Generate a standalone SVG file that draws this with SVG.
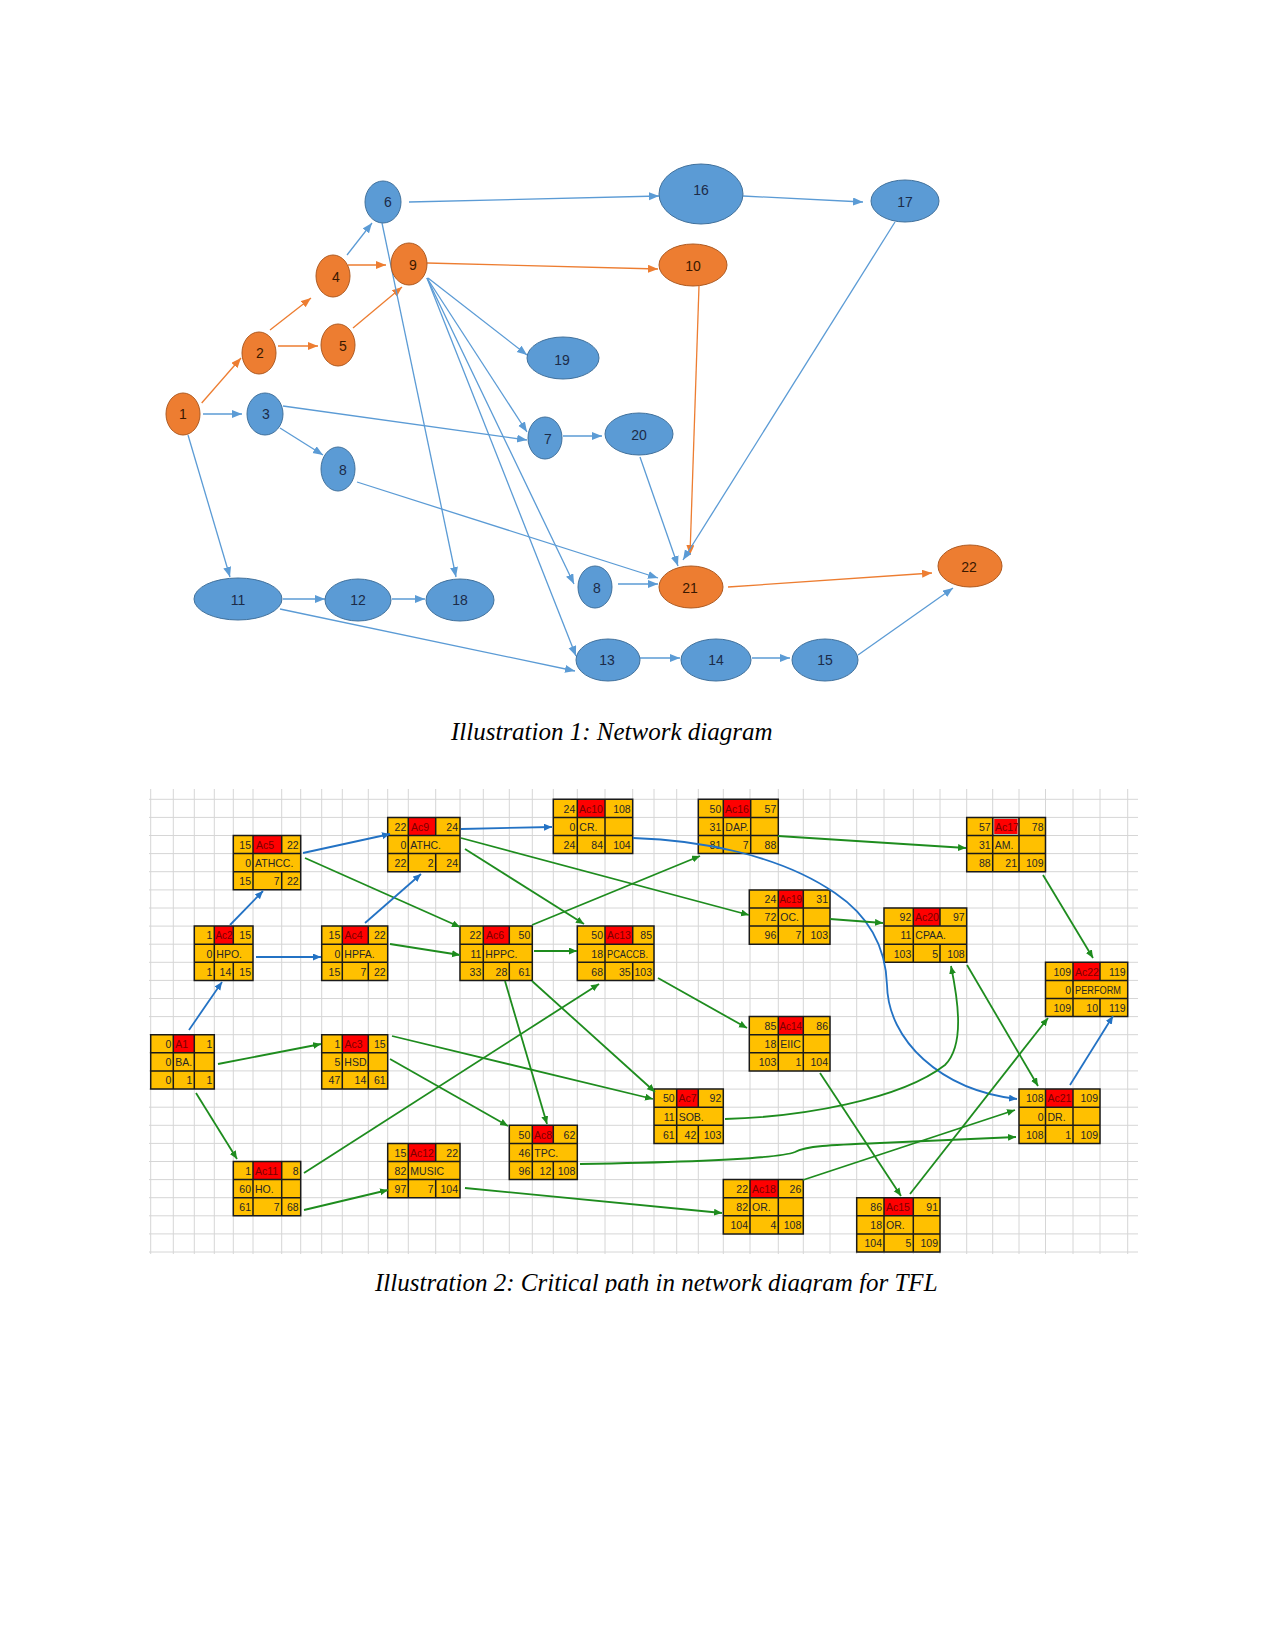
<svg xmlns="http://www.w3.org/2000/svg" width="1275" height="1650" viewBox="0 0 1275 1650">
<style>
.eb{fill:#5B9BD5;stroke:#41719C;stroke-width:1}
.eo{fill:#ED7D31;stroke:#AE5A21;stroke-width:1}
.tn{font-family:"Liberation Sans",Arial,sans-serif;font-size:14px;text-anchor:middle;fill:#1c2b48}
.to{fill:#3a1800}
.lb{fill:none;stroke:#5B9BD5;stroke-width:1.3}
.lo{fill:none;stroke:#ED7D31;stroke-width:1.3}
.grid{fill:none;stroke:#d6d6d6;stroke-width:1}
.bg{fill:#FFC000}
.rd{fill:#FF0000}
.bd{fill:none;stroke:#1a1a1a;stroke-width:1.5}
.t{font-family:"Liberation Sans",Arial,sans-serif;font-size:10.5px;fill:#262626;text-anchor:end}
.l{text-anchor:start}
.a{text-anchor:start;fill:#7a0000}
.cg{fill:none;stroke:#1e8c1e;stroke-width:1.8}
.cb{fill:none;stroke:#2372c4;stroke-width:1.8}
.cap{font-family:"Liberation Serif","Times New Roman",serif;font-style:italic;font-size:25px;fill:#000}
</style>
<defs>
<marker id="ab" markerUnits="userSpaceOnUse" markerWidth="11" markerHeight="9" refX="10" refY="4" orient="auto"><path d="M0,0 L10,4 L0,8 z" fill="#5B9BD5"/></marker>
<marker id="ao" markerUnits="userSpaceOnUse" markerWidth="11" markerHeight="9" refX="10" refY="4" orient="auto"><path d="M0,0 L10,4 L0,8 z" fill="#ED7D31"/></marker>
<marker id="mg" markerUnits="userSpaceOnUse" markerWidth="9" markerHeight="8" refX="8" refY="3.5" orient="auto"><path d="M0,0 L8,3.5 L0,7 z" fill="#1e8c1e"/></marker>
<marker id="mb" markerUnits="userSpaceOnUse" markerWidth="9" markerHeight="8" refX="8" refY="3.5" orient="auto"><path d="M0,0 L8,3.5 L0,7 z" fill="#2372c4"/></marker>
<clipPath id="capclip"><rect x="0" y="1240" width="1275" height="53"/></clipPath>
</defs>
<rect width="1275" height="1650" fill="#fff"/>

<!-- ===== Illustration 1 connectors ===== -->
<g id="connectors1">
<path class="lo" marker-end="url(#ao)" d="M201.7,403 L241,358"/>
<path class="lo" marker-end="url(#ao)" d="M270,330 L311,298"/>
<path class="lo" marker-end="url(#ao)" d="M278,346 L318,346"/>
<path class="lo" marker-end="url(#ao)" d="M348,265 L386,265"/>
<path class="lo" marker-end="url(#ao)" d="M353,328 L402,287"/>
<path class="lo" marker-end="url(#ao)" d="M427,263 L658,269"/>
<path class="lo" marker-end="url(#ao)" d="M699,286 L690,555"/>
<path class="lo" marker-end="url(#ao)" d="M728,587 L932,573"/>
<path class="lb" marker-end="url(#ab)" d="M203,414 L242,414"/>
<path class="lb" marker-end="url(#ab)" d="M347,255 L372,223"/>
<path class="lb" marker-end="url(#ab)" d="M409,202 L659,196"/>
<path class="lb" marker-end="url(#ab)" d="M743,196 L863,202"/>
<path class="lb" marker-end="url(#ab)" d="M382,223 L456,577"/>
<path class="lb" marker-end="url(#ab)" d="M428,278 L527,355"/>
<path class="lb" marker-end="url(#ab)" d="M427,278 L527,432"/>
<path class="lb" marker-end="url(#ab)" d="M283,406 L527,440"/>
<path class="lb" marker-end="url(#ab)" d="M427,278 L574,584"/>
<path class="lb" marker-end="url(#ab)" d="M427,278 L576,656"/>
<path class="lb" marker-end="url(#ab)" d="M280,428 L323,455"/>
<path class="lb" marker-end="url(#ab)" d="M188,435 L230,577"/>
<path class="lb" marker-end="url(#ab)" d="M283,599 L325,599"/>
<path class="lb" marker-end="url(#ab)" d="M392,599 L425,599"/>
<path class="lb" marker-end="url(#ab)" d="M280,609 L575,671"/>
<path class="lb" marker-end="url(#ab)" d="M357,482 L658,578"/>
<path class="lb" marker-end="url(#ab)" d="M618,584 L658,584"/>
<path class="lb" marker-end="url(#ab)" d="M563,436 L602,436"/>
<path class="lb" marker-end="url(#ab)" d="M640,457 L678,566"/>
<path class="lb" marker-end="url(#ab)" d="M895,222 L683,560"/>
<path class="lb" marker-end="url(#ab)" d="M858,655 L953,588"/>
<path class="lb" marker-end="url(#ab)" d="M640,658 L680,658"/>
<path class="lb" marker-end="url(#ab)" d="M752,658 L790,658"/>
</g>

<!-- ===== Illustration 1 nodes ===== -->
<g id="n1"><ellipse class="eo" cx="183" cy="414" rx="17" ry="21"/><text class="tn to" x="183" y="419">1</text></g>
<g id="n2"><ellipse class="eo" cx="259" cy="353" rx="17" ry="21"/><text class="tn to" x="260" y="358">2</text></g>
<g id="n3"><ellipse class="eb" cx="265" cy="414" rx="18" ry="21"/><text class="tn" x="266" y="419">3</text></g>
<g id="n4"><ellipse class="eo" cx="333" cy="276" rx="17" ry="21"/><text class="tn to" x="336" y="282">4</text></g>
<g id="n5"><ellipse class="eo" cx="338" cy="345" rx="17" ry="21"/><text class="tn to" x="343" y="351">5</text></g>
<g id="n6"><ellipse class="eb" cx="383" cy="202" rx="18" ry="21"/><text class="tn" x="388" y="207">6</text></g>
<g id="n9"><ellipse class="eo" cx="409" cy="264" rx="18" ry="21"/><text class="tn to" x="413" y="270">9</text></g>
<g id="n19"><ellipse class="eb" cx="563" cy="358" rx="36" ry="21"/><text class="tn" x="562" y="365">19</text></g>
<g id="n7"><ellipse class="eb" cx="545" cy="438" rx="17" ry="21"/><text class="tn" x="548" y="444">7</text></g>
<g id="n8a"><ellipse class="eb" cx="338" cy="469" rx="17" ry="22"/><text class="tn" x="343" y="475">8</text></g>
<g id="n16"><ellipse class="eb" cx="701" cy="194" rx="42" ry="30"/><text class="tn" x="701" y="195">16</text></g>
<g id="n17"><ellipse class="eb" cx="905" cy="201" rx="34" ry="21"/><text class="tn" x="905" y="207">17</text></g>
<g id="n10"><ellipse class="eo" cx="693" cy="265" rx="34" ry="21"/><text class="tn to" x="693" y="271">10</text></g>
<g id="n20"><ellipse class="eb" cx="639" cy="434" rx="34" ry="21"/><text class="tn" x="639" y="440">20</text></g>
<g id="n11"><ellipse class="eb" cx="238" cy="599" rx="44" ry="21"/><text class="tn" x="238" y="605">11</text></g>
<g id="n12"><ellipse class="eb" cx="358" cy="600" rx="33" ry="21"/><text class="tn" x="358" y="605">12</text></g>
<g id="n18"><ellipse class="eb" cx="460" cy="600" rx="34" ry="21"/><text class="tn" x="460" y="605">18</text></g>
<g id="n8b"><ellipse class="eb" cx="595" cy="587" rx="17" ry="21"/><text class="tn" x="597" y="593">8</text></g>
<g id="n13"><ellipse class="eb" cx="608" cy="660" rx="32" ry="21"/><text class="tn" x="607" y="665">13</text></g>
<g id="n21"><ellipse class="eo" cx="691" cy="587" rx="32" ry="21"/><text class="tn to" x="690" y="593">21</text></g>
<g id="n22"><ellipse class="eo" cx="970" cy="566" rx="32" ry="21"/><text class="tn to" x="969" y="572">22</text></g>
<g id="n14"><ellipse class="eb" cx="716" cy="660" rx="35" ry="21"/><text class="tn" x="716" y="665">14</text></g>
<g id="n15"><ellipse class="eb" cx="825" cy="660" rx="33" ry="21"/><text class="tn" x="825" y="665">15</text></g>

<text class="cap" x="451" y="740">Illustration 1: Network diagram</text>

<!-- ===== Illustration 2 grid ===== -->
<path class="grid" d="M149,799.3H1138 M149,817.4H1138 M149,835.5H1138 M149,853.6H1138 M149,871.7H1138 M149,889.9H1138 M149,908H1138 M149,926.1H1138 M149,944.2H1138 M149,962.3H1138 M149,980.4H1138 M149,998.5H1138 M149,1016.6H1138 M149,1034.7H1138 M149,1052.8H1138 M149,1070.9H1138 M149,1089.1H1138 M149,1107.2H1138 M149,1125.3H1138 M149,1143.4H1138 M149,1161.5H1138 M149,1179.6H1138 M149,1197.7H1138 M149,1215.8H1138 M149,1233.9H1138 M149,1252H1138
M150.7,789V1254 M173.3,789V1254 M194.3,789V1254 M214.3,789V1254 M233.3,789V1254 M253,789V1254 M281.7,789V1254 M300.7,789V1254 M321.7,789V1254 M342.3,789V1254 M368.3,789V1254 M387.7,789V1254 M408.3,789V1254 M435.7,789V1254 M460,789V1254 M483.3,789V1254 M509.3,789V1254 M532.3,789V1254 M553.3,789V1254 M577.3,789V1254 M605,789V1254 M632.7,789V1254 M654,789V1254 M676.7,789V1254 M698.3,789V1254 M723.3,789V1254 M750,789V1254 M778.3,789V1254 M803.3,789V1254 M830,789V1254 M856.7,789V1254 M884,789V1254 M913.3,789V1254 M940,789V1254 M966.7,789V1254 M992.7,789V1254 M1019,789V1254 M1045.5,789V1254 M1073,789V1254 M1100,789V1254 M1127.7,789V1254"/>

<!-- ===== Illustration 2 nodes ===== -->
<g id="A1">
<rect class="bg" x="150.7" y="1034.7" width="63.6" height="54.3"/><rect class="rd" x="173.3" y="1034.7" width="21" height="18.1"/>
<path class="bd" d="M150.7,1034.7H214.3V1089H150.7Z M150.7,1052.8H214.3 M150.7,1070.9H214.3 M173.3,1034.7V1089 M194.3,1034.7V1089"/>
<text class="t" x="171.3" y="1048">0</text><text class="t a" x="175.3" y="1048">A1</text><text class="t" x="212.3" y="1048">1</text>
<text class="t" x="171.3" y="1066.1">0</text><text class="t l" x="175.3" y="1066.1">BA.</text>
<text class="t" x="171.3" y="1084.2">0</text><text class="t" x="192.3" y="1084.2">1</text><text class="t" x="212.3" y="1084.2">1</text>
</g>
<g id="Ac2">
<rect class="bg" x="194.3" y="926.1" width="58.7" height="54.3"/><rect class="rd" x="214.3" y="926.1" width="19" height="18.1"/>
<path class="bd" d="M194.3,926.1H253V980.4H194.3Z M194.3,944.2H253 M194.3,962.3H253 M214.3,926.1V980.4 M233.3,926.1V944.2 M233.3,962.3V980.4"/>
<text class="t" x="212.3" y="939.4">1</text><text class="t a" x="215.5" y="939.4" textLength="17" lengthAdjust="spacingAndGlyphs">Ac2</text><text class="t" x="251" y="939.4">15</text>
<text class="t" x="212.3" y="957.5">0</text><text class="t l" x="216.3" y="957.5">HPO.</text>
<text class="t" x="212.3" y="975.6">1</text><text class="t" x="231.3" y="975.6">14</text><text class="t" x="251" y="975.6">15</text>
</g>
<g id="Ac5">
<rect class="bg" x="233.3" y="835.5" width="67.4" height="54.3"/><rect class="rd" x="253" y="835.5" width="28.7" height="18.1"/>
<path class="bd" d="M233.3,835.5H300.7V889.8H233.3Z M233.3,853.6H300.7 M233.3,871.7H300.7 M253,835.5V889.8 M281.7,835.5V853.6 M281.7,871.7V889.8"/>
<text class="t" x="251" y="848.8">15</text><text class="t a" x="256" y="848.8">Ac5</text><text class="t" x="298.7" y="848.8">22</text>
<text class="t" x="251" y="866.9">0</text><text class="t l" x="255" y="866.9">ATHCC.</text>
<text class="t" x="251" y="885">15</text><text class="t" x="279.7" y="885">7</text><text class="t" x="298.7" y="885">22</text>
</g>
<g id="Ac4">
<rect class="bg" x="321.7" y="926.1" width="66" height="54.3"/><rect class="rd" x="342.3" y="926.1" width="26" height="18.1"/>
<path class="bd" d="M321.7,926.1H387.7V980.4H321.7Z M321.7,944.2H387.7 M321.7,962.3H387.7 M342.3,926.1V980.4 M368.3,926.1V944.2 M368.3,962.3V980.4"/>
<text class="t" x="340.3" y="939.4">15</text><text class="t a" x="344.5" y="939.4">Ac4</text><text class="t" x="385.7" y="939.4">22</text>
<text class="t" x="340.3" y="957.5">0</text><text class="t l" x="344.3" y="957.5">HPFA.</text>
<text class="t" x="340.3" y="975.6">15</text><text class="t" x="366.3" y="975.6">7</text><text class="t" x="385.7" y="975.6">22</text>
</g>
<g id="Ac3">
<rect class="bg" x="321.7" y="1034.7" width="66" height="54.3"/><rect class="rd" x="342.3" y="1034.7" width="26" height="18.1"/>
<path class="bd" d="M321.7,1034.7H387.7V1089H321.7Z M321.7,1052.8H387.7 M321.7,1070.9H387.7 M342.3,1034.7V1089 M368.3,1034.7V1089"/>
<text class="t" x="340.3" y="1048">1</text><text class="t a" x="344.5" y="1048">Ac3</text><text class="t" x="385.7" y="1048">15</text>
<text class="t" x="340.3" y="1066.1">5</text><text class="t l" x="344.3" y="1066.1">HSD.</text>
<text class="t" x="340.3" y="1084.2">47</text><text class="t" x="366.3" y="1084.2">14</text><text class="t" x="385.7" y="1084.2">61</text>
</g>
<g id="Ac9">
<rect class="bg" x="387.7" y="817.4" width="72.3" height="54.3"/><rect class="rd" x="408.3" y="817.4" width="27.4" height="18.1"/>
<path class="bd" d="M387.7,817.4H460V871.7H387.7Z M387.7,835.5H460 M387.7,853.6H460 M408.3,817.4V871.7 M435.7,817.4V835.5 M435.7,853.6V871.7"/>
<text class="t" x="406.3" y="830.7">22</text><text class="t a" x="411" y="830.7">Ac9</text><text class="t" x="458" y="830.7">24</text>
<text class="t" x="406.3" y="848.8">0</text><text class="t l" x="410.3" y="848.8">ATHC.</text>
<text class="t" x="406.3" y="866.9">22</text><text class="t" x="433.7" y="866.9">2</text><text class="t" x="458" y="866.9">24</text>
</g>
<g id="Ac11">
<rect class="bg" x="233.3" y="1161.5" width="67.4" height="54.3"/><rect class="rd" x="253" y="1161.5" width="28.7" height="18.1"/>
<path class="bd" d="M233.3,1161.5H300.7V1215.8H233.3Z M233.3,1179.6H300.7 M233.3,1197.7H300.7 M253,1161.5V1215.8 M281.7,1161.5V1215.8"/>
<text class="t" x="251" y="1174.8">1</text><text class="t a" x="255" y="1174.8">Ac11</text><text class="t" x="298.7" y="1174.8">8</text>
<text class="t" x="251" y="1192.9">60</text><text class="t l" x="255" y="1192.9">HO.</text>
<text class="t" x="251" y="1211">61</text><text class="t" x="279.7" y="1211">7</text><text class="t" x="298.7" y="1211">68</text>
</g>
<g id="Ac12">
<rect class="bg" x="387.7" y="1143.4" width="72.3" height="54.3"/><rect class="rd" x="408.3" y="1143.4" width="27.4" height="18.1"/>
<path class="bd" d="M387.7,1143.4H460V1197.7H387.7Z M387.7,1161.5H460 M387.7,1179.6H460 M408.3,1143.4V1197.7 M435.7,1143.4V1161.5 M435.7,1179.6V1197.7"/>
<text class="t" x="406.3" y="1156.7">15</text><text class="t a" x="410" y="1156.7">Ac12</text><text class="t" x="458" y="1156.7">22</text>
<text class="t" x="406.3" y="1174.8">82</text><text class="t l" x="410.3" y="1174.8">MUSIC</text>
<text class="t" x="406.3" y="1192.9">97</text><text class="t" x="433.7" y="1192.9">7</text><text class="t" x="458" y="1192.9">104</text>
</g>
<g id="Ac6">
<rect class="bg" x="460" y="926.1" width="72.3" height="54.3"/><rect class="rd" x="483.3" y="926.1" width="26" height="18.1"/>
<path class="bd" d="M460,926.1H532.3V980.4H460Z M460,944.2H532.3 M460,962.3H532.3 M483.3,926.1V980.4 M509.3,926.1V944.2 M509.3,962.3V980.4"/>
<text class="t" x="481.3" y="939.4">22</text><text class="t a" x="486" y="939.4">Ac6</text><text class="t" x="530.3" y="939.4">50</text>
<text class="t" x="481.3" y="957.5">11</text><text class="t l" x="485.3" y="957.5">HPPC.</text>
<text class="t" x="481.3" y="975.6">33</text><text class="t" x="507.3" y="975.6">28</text><text class="t" x="530.3" y="975.6">61</text>
</g>
<g id="Ac10">
<rect class="bg" x="553.3" y="799.3" width="79.4" height="54.3"/><rect class="rd" x="577.3" y="799.3" width="27.7" height="18.1"/>
<path class="bd" d="M553.3,799.3H632.7V853.6H553.3Z M553.3,817.4H632.7 M553.3,835.5H632.7 M577.3,799.3V853.6 M605,799.3V853.6"/>
<text class="t" x="575.3" y="812.6">24</text><text class="t a" x="579" y="812.6">Ac10</text><text class="t" x="630.7" y="812.6">108</text>
<text class="t" x="575.3" y="830.7">0</text><text class="t l" x="579.3" y="830.7">CR.</text>
<text class="t" x="575.3" y="848.8">24</text><text class="t" x="603" y="848.8">84</text><text class="t" x="630.7" y="848.8">104</text>
</g>
<g id="Ac13">
<rect class="bg" x="577.3" y="926.1" width="76.7" height="54.3"/><rect class="rd" x="605" y="926.1" width="27.7" height="18.1"/>
<path class="bd" d="M577.3,926.1H654V980.4H577.3Z M577.3,944.2H654 M577.3,962.3H654 M605,926.1V980.4 M632.7,926.1V944.2 M632.7,962.3V980.4"/>
<text class="t" x="603" y="939.4">50</text><text class="t a" x="607" y="939.4">Ac13</text><text class="t" x="652" y="939.4">85</text>
<text class="t" x="603" y="957.5">18</text><text class="t l" x="607" y="957.5" textLength="41" lengthAdjust="spacingAndGlyphs">PCACCB.</text>
<text class="t" x="603" y="975.6">68</text><text class="t" x="630.7" y="975.6">35</text><text class="t" x="652" y="975.6">103</text>
</g>
<g id="Ac16">
<rect class="bg" x="698.3" y="799.3" width="80" height="54.3"/><rect class="rd" x="723.3" y="799.3" width="27.4" height="18.1"/>
<path class="bd" d="M698.3,799.3H778.3V853.6H698.3Z M698.3,817.4H778.3 M698.3,835.5H778.3 M723.3,799.3V853.6 M750.7,799.3V853.6"/>
<text class="t" x="721.3" y="812.6">50</text><text class="t a" x="725" y="812.6">Ac16</text><text class="t" x="776.3" y="812.6">57</text>
<text class="t" x="721.3" y="830.7">31</text><text class="t l" x="725.3" y="830.7">DAP.</text>
<text class="t" x="721.3" y="848.8">81</text><text class="t" x="748.7" y="848.8">7</text><text class="t" x="776.3" y="848.8">88</text>
</g>
<g id="Ac19">
<rect class="bg" x="749.3" y="889.9" width="80.7" height="54.3"/><rect class="rd" x="778.3" y="889.9" width="25" height="18.1"/>
<path class="bd" d="M749.3,889.9H830V944.2H749.3Z M749.3,908H830 M749.3,926.1H830 M778.3,889.9V944.2 M803.3,889.9V944.2"/>
<text class="t" x="776.3" y="903.2">24</text><text class="t a" x="779.5" y="903.2" textLength="22.5" lengthAdjust="spacingAndGlyphs">Ac19</text><text class="t" x="828" y="903.2">31</text>
<text class="t" x="776.3" y="921.3">72</text><text class="t l" x="780.3" y="921.3">OC.</text>
<text class="t" x="776.3" y="939.4">96</text><text class="t" x="801.3" y="939.4">7</text><text class="t" x="828" y="939.4">103</text>
</g>
<g id="Ac17">
<rect class="bg" x="966.7" y="817.4" width="78.8" height="54.3"/><rect class="rd" x="992.7" y="817.4" width="26.3" height="18.1"/>
<rect x="993.7" y="818.4" width="24.3" height="16.1" fill="none" stroke="#cfe8cf" stroke-width="1"/>
<path class="bd" d="M966.7,817.4H1045.5V871.7H966.7Z M966.7,835.5H1045.5 M966.7,853.6H1045.5 M992.7,817.4V871.7 M1019,817.4V871.7"/>
<text class="t" x="990.7" y="830.7">57</text><text class="t a" x="995" y="830.7">Ac17</text><text class="t" x="1043.5" y="830.7">78</text>
<text class="t" x="990.7" y="848.8">31</text><text class="t l" x="994.7" y="848.8">AM.</text>
<text class="t" x="990.7" y="866.9">88</text><text class="t" x="1017" y="866.9">21</text><text class="t" x="1043.5" y="866.9">109</text>
</g>
<g id="Ac20">
<rect class="bg" x="884" y="908" width="82.7" height="54.3"/><rect class="rd" x="913.3" y="908" width="26.7" height="18.1"/>
<path class="bd" d="M884,908H966.7V962.3H884Z M884,926.1H966.7 M884,944.2H966.7 M913.3,908V962.3 M940,908V926.1 M940,944.2V962.3"/>
<text class="t" x="911.3" y="921.3">92</text><text class="t a" x="915" y="921.3">Ac20</text><text class="t" x="964.7" y="921.3">97</text>
<text class="t" x="911.3" y="939.4">11</text><text class="t l" x="915.3" y="939.4">CPAA.</text>
<text class="t" x="911.3" y="957.5">103</text><text class="t" x="938" y="957.5">5</text><text class="t" x="964.7" y="957.5">108</text>
</g>
<g id="Ac22">
<rect class="bg" x="1045.5" y="962.3" width="82.2" height="54.3"/><rect class="rd" x="1073" y="962.3" width="27" height="18.1"/>
<path class="bd" d="M1045.5,962.3H1127.7V1016.6H1045.5Z M1045.5,980.4H1127.7 M1045.5,998.5H1127.7 M1073,962.3V1016.6 M1100,962.3V980.4 M1100,998.5V1016.6"/>
<text class="t" x="1071" y="975.6">109</text><text class="t a" x="1075" y="975.6">Ac22</text><text class="t" x="1125.7" y="975.6">119</text>
<text class="t" x="1071" y="993.7">0</text><text class="t l" x="1075" y="993.7" textLength="46" lengthAdjust="spacingAndGlyphs">PERFORM</text>
<text class="t" x="1071" y="1011.8">109</text><text class="t" x="1098" y="1011.8">10</text><text class="t" x="1125.7" y="1011.8">119</text>
</g>
<g id="Ac14">
<rect class="bg" x="749.3" y="1016.6" width="80.7" height="54.3"/><rect class="rd" x="778.3" y="1016.6" width="25" height="18.1"/>
<path class="bd" d="M749.3,1016.6H830V1070.9H749.3Z M749.3,1034.7H830 M749.3,1052.8H830 M778.3,1016.6V1070.9 M803.3,1016.6V1070.9"/>
<text class="t" x="776.3" y="1029.9">85</text><text class="t a" x="779.5" y="1029.9" textLength="22.5" lengthAdjust="spacingAndGlyphs">Ac14</text><text class="t" x="828" y="1029.9">86</text>
<text class="t" x="776.3" y="1048">18</text><text class="t l" x="780.3" y="1048">EIIC</text>
<text class="t" x="776.3" y="1066.1">103</text><text class="t" x="801.3" y="1066.1">1</text><text class="t" x="828" y="1066.1">104</text>
</g>
<g id="Ac7">
<rect class="bg" x="654" y="1089.1" width="69.3" height="54.3"/><rect class="rd" x="676.7" y="1089.1" width="21.6" height="18.1"/>
<path class="bd" d="M654,1089.1H723.3V1143.4H654Z M654,1107.2H723.3 M654,1125.3H723.3 M676.7,1089.1V1143.4 M698.3,1089.1V1107.2 M698.3,1125.3V1143.4"/>
<text class="t" x="674.7" y="1102.4">50</text><text class="t a" x="678.5" y="1102.4" textLength="18" lengthAdjust="spacingAndGlyphs">Ac7</text><text class="t" x="721.3" y="1102.4">92</text>
<text class="t" x="674.7" y="1120.5">11</text><text class="t l" x="678.7" y="1120.5">SOB.</text>
<text class="t" x="674.7" y="1138.6">61</text><text class="t" x="696.3" y="1138.6">42</text><text class="t" x="721.3" y="1138.6">103</text>
</g>
<g id="Ac8">
<rect class="bg" x="509.3" y="1125.3" width="68" height="54.3"/><rect class="rd" x="532.3" y="1125.3" width="21" height="18.1"/>
<path class="bd" d="M509.3,1125.3H577.3V1179.6H509.3Z M509.3,1143.4H577.3 M509.3,1161.5H577.3 M532.3,1125.3V1179.6 M553.3,1125.3V1143.4 M553.3,1161.5V1179.6"/>
<text class="t" x="530.3" y="1138.6">50</text><text class="t a" x="534" y="1138.6" textLength="18" lengthAdjust="spacingAndGlyphs">Ac8</text><text class="t" x="575.3" y="1138.6">62</text>
<text class="t" x="530.3" y="1156.7">46</text><text class="t l" x="534.3" y="1156.7">TPC.</text>
<text class="t" x="530.3" y="1174.8">96</text><text class="t" x="551.3" y="1174.8">12</text><text class="t" x="575.3" y="1174.8">108</text>
</g>
<g id="Ac21">
<rect class="bg" x="1019" y="1089.1" width="81" height="54.3"/><rect class="rd" x="1045.5" y="1089.1" width="27.5" height="18.1"/>
<path class="bd" d="M1019,1089.1H1100V1143.4H1019Z M1019,1107.2H1100 M1019,1125.3H1100 M1045.5,1089.1V1143.4 M1073,1089.1V1143.4"/>
<text class="t" x="1043.5" y="1102.4">108</text><text class="t a" x="1047.5" y="1102.4">Ac21</text><text class="t" x="1098" y="1102.4">109</text>
<text class="t" x="1043.5" y="1120.5">0</text><text class="t l" x="1047.5" y="1120.5">DR.</text>
<text class="t" x="1043.5" y="1138.6">108</text><text class="t" x="1071" y="1138.6">1</text><text class="t" x="1098" y="1138.6">109</text>
</g>
<g id="Ac18">
<rect class="bg" x="723.3" y="1179.6" width="80" height="54.3"/><rect class="rd" x="750" y="1179.6" width="28.3" height="18.1"/>
<path class="bd" d="M723.3,1179.6H803.3V1233.9H723.3Z M723.3,1197.7H803.3 M723.3,1215.8H803.3 M750,1179.6V1233.9 M778.3,1179.6V1233.9"/>
<text class="t" x="748" y="1192.9">22</text><text class="t a" x="752" y="1192.9">Ac18</text><text class="t" x="801.3" y="1192.9">26</text>
<text class="t" x="748" y="1211">82</text><text class="t l" x="752" y="1211">OR.</text>
<text class="t" x="748" y="1229.1">104</text><text class="t" x="776.3" y="1229.1">4</text><text class="t" x="801.3" y="1229.1">108</text>
</g>
<g id="Ac15">
<rect class="bg" x="856.7" y="1197.7" width="83.3" height="54.3"/><rect class="rd" x="884" y="1197.7" width="29.3" height="18.1"/>
<path class="bd" d="M856.7,1197.7H940V1252H856.7Z M856.7,1215.8H940 M856.7,1233.9H940 M884,1197.7V1252 M913.3,1197.7V1252"/>
<text class="t" x="882" y="1211">86</text><text class="t a" x="886" y="1211">Ac15</text><text class="t" x="938" y="1211">91</text>
<text class="t" x="882" y="1229.1">18</text><text class="t l" x="886" y="1229.1">OR.</text>
<text class="t" x="882" y="1247.2">104</text><text class="t" x="911.3" y="1247.2">5</text><text class="t" x="938" y="1247.2">109</text>
</g>

<!-- ===== Illustration 2 connectors ===== -->
<g id="connectors2">
<path class="cb" marker-end="url(#mb)" d="M189,1030 L222,982"/>
<path class="cb" marker-end="url(#mb)" d="M230,925 L263,891"/>
<path class="cb" marker-end="url(#mb)" d="M256,957 L321,957"/>
<path class="cb" marker-end="url(#mb)" d="M303,853 L390,834"/>
<path class="cg" marker-end="url(#mg)" d="M305,858 L460,927"/>
<path class="cb" marker-end="url(#mb)" d="M365,923 L421,874"/>
<path class="cg" marker-end="url(#mg)" d="M390,944 L460,955"/>
<path class="cb" marker-end="url(#mb)" d="M461,829 L552,827"/>
<path class="cg" marker-end="url(#mg)" d="M461,838 L749,915"/>
<path class="cg" marker-end="url(#mg)" d="M465,849 L584,924"/>
<path class="cg" marker-end="url(#mg)" d="M532,925 L700,856"/>
<path class="cg" marker-end="url(#mg)" d="M534,951 L577,951"/>
<path class="cg" marker-end="url(#mg)" d="M505,981 L547,1124"/>
<path class="cg" marker-end="url(#mg)" d="M532,981 L655,1092"/>
<path class="cg" marker-end="url(#mg)" d="M304,1173 L599,984"/>
<path class="cg" marker-end="url(#mg)" d="M658,978 L747,1028"/>
<path class="cb" marker-end="url(#mb)" d="M633,838 C700,840 780,855 835,893 C875,920 886,955 887,985 C888,1040 940,1090 1017,1099"/>
<path class="cg" marker-end="url(#mg)" d="M778,836 L966,848"/>
<path class="cg" marker-end="url(#mg)" d="M830,919 L883,923"/>
<path class="cg" marker-end="url(#mg)" d="M1043,875 L1093,958"/>
<path class="cg" marker-end="url(#mg)" d="M967,965 L1038,1086"/>
<path class="cg" marker-end="url(#mg)" d="M725,1119 C800,1117 900,1100 945,1065 C965,1045 958,1000 951,966"/>
<path class="cg" marker-end="url(#mg)" d="M580,1164 C700,1162 780,1158 795,1152 C805,1146 830,1145 880,1143 L1016,1137"/>
<path class="cg" marker-end="url(#mg)" d="M465,1188 L722,1213"/>
<path class="cg" marker-end="url(#mg)" d="M304,1210 L388,1190"/>
<path class="cg" marker-end="url(#mg)" d="M218,1064 L321,1044"/>
<path class="cg" marker-end="url(#mg)" d="M196,1093 L237,1159"/>
<path class="cg" marker-end="url(#mg)" d="M392,1036 L653,1099"/>
<path class="cg" marker-end="url(#mg)" d="M390,1059 L508,1126"/>
<path class="cg" marker-end="url(#mg)" d="M803,1180 L1015,1110"/>
<path class="cg" marker-end="url(#mg)" d="M820,1073 L901,1196"/>
<path class="cg" marker-end="url(#mg)" d="M910,1194 L1048,1018"/>
<path class="cb" marker-end="url(#mb)" d="M1070,1085 L1113,1016"/>
</g>

<text class="cap" x="375" y="1291" clip-path="url(#capclip)">Illustration 2: Critical path in network diagram for TFL</text>
</svg>
